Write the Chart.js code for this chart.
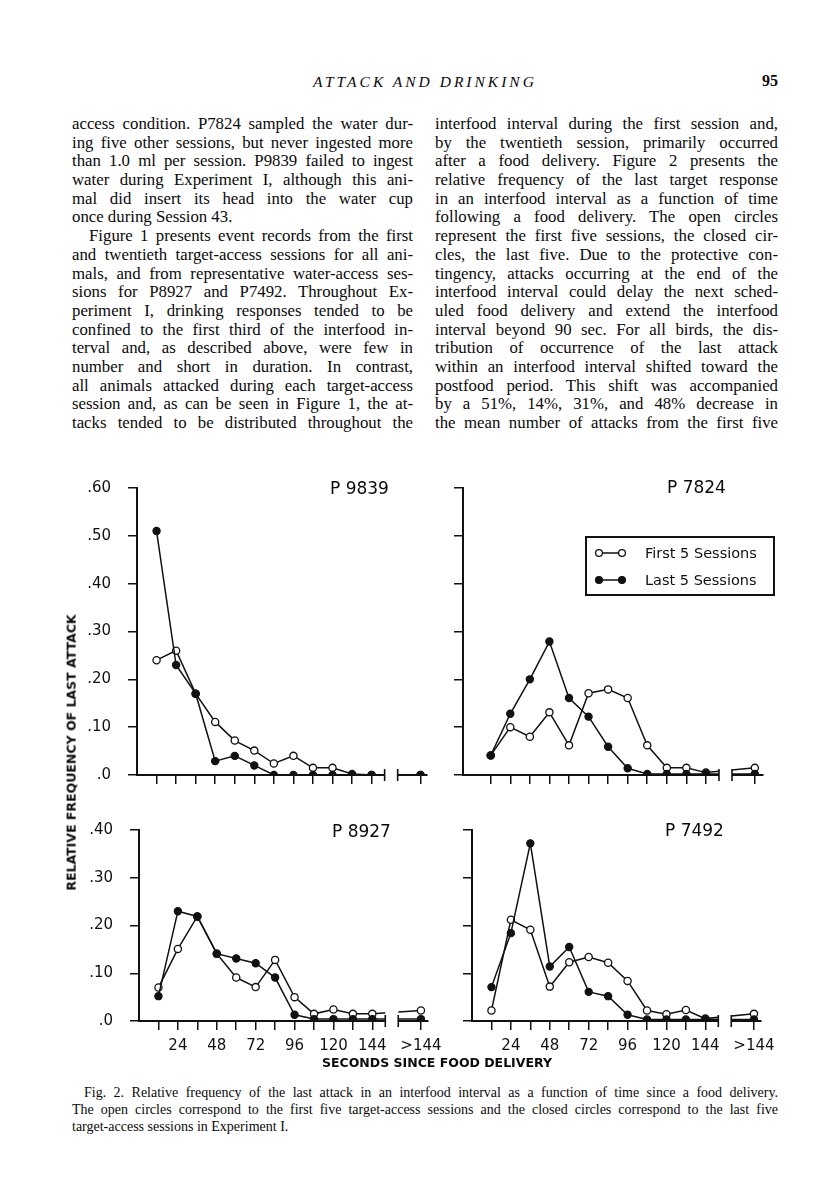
<!DOCTYPE html>
<html>
<head>
<meta charset="utf-8">
<title>Attack and Drinking - Fig. 2</title>
<script src="https://cdn.jsdelivr.net/npm/chart.js@4.4.0/dist/chart.umd.min.js"></script>
<style>
    body { margin: 0; background: #fff; }
    #page { position: relative; width: 816px; height: 1200px; color: #0a0a0a; font-family: "Liberation Serif", serif; overflow: hidden; }
    .abs { position: absolute; }
    .col { position: absolute; top: 115px; }
    .col div { height: 18.7px; line-height: 18.7px; font-size: 16.8px; white-space: nowrap; }
    .col div.indent { text-indent: 17px; }
    .header { top: 73px; left: 0; width: 850px; text-align: center; font-style: italic; font-size: 15.5px; letter-spacing: 3px; }
    .pageno { top: 72px; left: 740px; width: 38px; text-align: right; font-weight: bold; font-size: 16px; }
    .panel-label { font-family: "DejaVu Sans", sans-serif; font-size: 17px; line-height: 20px; }
    .axis-title { font-family: "DejaVu Sans", sans-serif; font-weight: bold; font-size: 12.5px; white-space: nowrap; }
    .caption { left: 72px; top: 1084px; width: 706px; font-size: 14px; line-height: 17px; }
    .caption div { white-space: nowrap; }
    .caption div.first { text-indent: 12px; }
</style>
</head>
<body>
<div id="page">
    <div class="abs header">ATTACK AND DRINKING</div>
    <div class="abs pageno">95</div>

    <div class="col" style="left:72px; width:341px;">
        <div>access condition. P7824 sampled the water dur-</div>
        <div>ing five other sessions, but never ingested more</div>
        <div>than 1.0 ml per session. P9839 failed to ingest</div>
        <div>water during Experiment I, although this ani-</div>
        <div>mal did insert its head into the water cup</div>
        <div class="last">once during Session 43.</div>
        <div class="indent">Figure 1 presents event records from the first</div>
        <div>and twentieth target-access sessions for all ani-</div>
        <div>mals, and from representative water-access ses-</div>
        <div>sions for P8927 and P7492. Throughout Ex-</div>
        <div>periment I, drinking responses tended to be</div>
        <div>confined to the first third of the interfood in-</div>
        <div>terval and, as described above, were few in</div>
        <div>number and short in duration. In contrast,</div>
        <div>all animals attacked during each target-access</div>
        <div>session and, as can be seen in Figure 1, the at-</div>
        <div>tacks tended to be distributed throughout the</div>
    </div>

    <div class="col" style="left:435px; width:343px;">
        <div>interfood interval during the first session and,</div>
        <div>by the twentieth session, primarily occurred</div>
        <div>after a food delivery. Figure 2 presents the</div>
        <div>relative frequency of the last target response</div>
        <div>in an interfood interval as a function of time</div>
        <div>following a food delivery. The open circles</div>
        <div>represent the first five sessions, the closed cir-</div>
        <div>cles, the last five. Due to the protective con-</div>
        <div>tingency, attacks occurring at the end of the</div>
        <div>interfood interval could delay the next sched-</div>
        <div>uled food delivery and extend the interfood</div>
        <div>interval beyond 90 sec. For all birds, the dis-</div>
        <div>tribution of occurrence of the last attack</div>
        <div>within an interfood interval shifted toward the</div>
        <div>postfood period. This shift was accompanied</div>
        <div>by a 51%, 14%, 31%, and 48% decrease in</div>
        <div>the mean number of attacks from the first five</div>
    </div>

    <canvas id="p9839" class="abs" style="left:67px; top:462px;" width="380" height="353"></canvas>
    <canvas id="p7824" class="abs" style="left:393px; top:462px;" width="390" height="353"></canvas>
    <canvas id="p8927" class="abs" style="left:69px; top:804px;" width="380" height="257"></canvas>
    <canvas id="p7492" class="abs" style="left:402px; top:804px;" width="380" height="257"></canvas>

    <div class="abs panel-label" style="left:330px; top:478px;">P 9839</div>
    <div class="abs panel-label" style="left:667px; top:477px;">P 7824</div>
    <div class="abs panel-label" style="left:332px; top:821px;">P 8927</div>
    <div class="abs panel-label" style="left:665px; top:820px;">P 7492</div>

    <div id="ytitle" class="abs axis-title">RELATIVE FREQUENCY OF LAST ATTACK</div>
    <div id="xtitle" class="abs axis-title">SECONDS SINCE FOOD DELIVERY</div>

    <div class="abs caption">
        <div class="first">Fig. 2. Relative frequency of the last attack in an interfood interval as a function of time since a food delivery.</div>
        <div>The open circles correspond to the first five target-access sessions and the closed circles correspond to the last five</div>
        <div class="last">target-access sessions in Experiment I.</div>
    </div>
</div>

<script>
// bins: 12 s steps, plus the ">144" bin drawn past the axis break
const xBins = [12, 24, 36, 48, 60, 72, 84, 96, 108, 120, 132, 144, 174];
const xTickLabels = ['', '24', '', '48', '', '72', '', '96', '', '120', '', '144', '>144'];
const yTicksTop = [0, 0.1, 0.2, 0.3, 0.4, 0.5, 0.6];
const yTicksBottom = [0, 0.1, 0.2, 0.3, 0.4];
const yTickLabels = ['.0', '.10', '.20', '.30', '.40', '.50', '.60'];

// relative frequency of last attack
const p9839First = [0.24, 0.26, 0.17, 0.111, 0.072, 0.051, 0.024, 0.040, 0.015, 0.015, 0.002, 0, 0];
const p9839Last  = [0.51, 0.23, 0.17, 0.029, 0.040, 0.020, 0, 0, 0, 0, 0, 0, 0];
const p7824First = [0.041, 0.100, 0.080, 0.131, 0.062, 0.171, 0.179, 0.161, 0.062, 0.015, 0.015, 0.005, 0.015];
const p7824Last  = [0.041, 0.128, 0.200, 0.279, 0.161, 0.122, 0.059, 0.014, 0.002, 0.002, 0.002, 0.002, 0.002];
const p8927First = [0.070, 0.151, 0.219, 0.141, 0.091, 0.071, 0.128, 0.050, 0.015, 0.024, 0.015, 0.015, 0.022];
const p8927Last  = [0.052, 0.230, 0.219, 0.141, 0.131, 0.121, 0.091, 0.013, 0.004, 0.004, 0.004, 0.004, 0.004];
const p7492First = [0.022, 0.212, 0.191, 0.072, 0.123, 0.134, 0.122, 0.084, 0.022, 0.014, 0.023, 0.005, 0.015];
const p7492Last  = [0.071, 0.184, 0.372, 0.114, 0.155, 0.061, 0.052, 0.013, 0.003, 0.003, 0.003, 0.003, 0.003];

const ink = '#111';
const breakFrom = 152;
const breakTo = 160;

Chart.defaults.font.family = '"DejaVu Sans", sans-serif';
Chart.defaults.color = ink;

// white gap in the x axis with the two end bars
const axisBreak = {
    id: 'axisBreak',
    afterDraw(chart) {
        const { ctx, scales: { x, y } } = chart;
        const x1 = x.getPixelForValue(breakFrom);
        const x2 = x.getPixelForValue(breakTo);
        const y0 = y.getPixelForValue(0);
        ctx.save();
        ctx.fillStyle = '#fff';
        ctx.fillRect(x1, y0 - 16, x2 - x1, 19);
        ctx.strokeStyle = ink;
        ctx.lineWidth = 1.6;
        ctx.beginPath();
        [x1, x2].forEach(px => {
            ctx.moveTo(px, y0 - 6);
            ctx.lineTo(px, y0 + 6);
        });
        ctx.stroke();
        ctx.restore();
    }
};

// boxed legend in the P 7824 panel
const boxLegend = {
    id: 'boxLegend',
    afterDraw(chart) {
        const ctx = chart.ctx;
        const sets = [chart.data.datasets[1], chart.data.datasets[0]];
        ctx.save();
        ctx.strokeStyle = ink;
        ctx.lineWidth = 2;
        ctx.strokeRect(193, 75, 188, 58);
        sets.forEach((ds, i) => {
            const yy = 91 + i * 27;
            ctx.lineWidth = 1.5;
            ctx.beginPath();
            ctx.moveTo(206, yy);
            ctx.lineTo(229, yy);
            ctx.stroke();
            [206, 229].forEach(px => {
                ctx.beginPath();
                ctx.arc(px, yy, 3.4, 0, Math.PI * 2);
                ctx.fillStyle = ds.pointBackgroundColor;
                ctx.fill();
                ctx.lineWidth = 1.3;
                ctx.stroke();
            });
            ctx.fillStyle = ink;
            ctx.font = '14.5px "DejaVu Sans", sans-serif';
            ctx.textBaseline = 'middle';
            ctx.fillText(ds.label, 252, yy + 1);
        });
        ctx.restore();
    }
};

function series(values) {
    return xBins.map((x, i) => ({ x: x, y: values[i] }));
}

function makePanel(id, first, last, opts) {
    const ctx = document.getElementById(id).getContext('2d');
    const yTicks = opts.yMax > 0.45 ? yTicksTop : yTicksBottom;
    const plugins = [axisBreak];
    if (opts.legend) plugins.push(boxLegend);

    new Chart(ctx, {
        type: 'line',
        data: {
            datasets: [{
                label: 'Last 5 Sessions',
                data: series(last),
                borderColor: ink,
                borderWidth: 1.5,
                pointRadius: 3.6,
                pointBorderWidth: 1.2,
                pointBorderColor: ink,
                pointBackgroundColor: ink,
                tension: 0
            }, {
                label: 'First 5 Sessions',
                data: series(first),
                borderColor: ink,
                borderWidth: 1.5,
                pointRadius: 3.6,
                pointBorderWidth: 1.3,
                pointBorderColor: ink,
                pointBackgroundColor: '#fff',
                tension: 0
            }]
        },
        options: {
            responsive: false,
            animation: false,
            events: [],
            layout: { padding: { top: 20, right: 20, left: 0, bottom: 0 } },
            plugins: { legend: { display: false }, tooltip: { enabled: false } },
            scales: {
                x: {
                    type: 'linear',
                    min: opts.xMin,
                    max: opts.xMax,
                    afterBuildTicks: s => { s.ticks = xBins.map(v => ({ value: v })); },
                    afterFit: s => { s.height = 40; },
                    grid: { drawOnChartArea: false, drawTicks: true, tickLength: 9, color: ink, lineWidth: 1.5 },
                    border: { color: ink, width: 2 },
                    ticks: {
                        autoSkip: false, maxRotation: 0, padding: 7,
                        font: { size: 15 },
                        callback: (v, i) => opts.xLabels ? xTickLabels[i] : ''
                    }
                },
                y: {
                    min: 0,
                    max: opts.yMax,
                    afterBuildTicks: s => { s.ticks = yTicks.map(v => ({ value: v })); },
                    afterFit: s => { s.width = 70; },
                    grid: { drawOnChartArea: false, drawTicks: true, tickLength: 9, color: ink, lineWidth: 1.5 },
                    border: { color: ink, width: 2 },
                    ticks: {
                        padding: 17,
                        font: { size: 15 },
                        callback: (v, i) => opts.yLabels ? yTickLabels[i] : ''
                    }
                }
            }
        },
        plugins: plugins
    });
}

// spread words so every non-final line fills its column, like the typeset page
function justifyLines(selector) {
    document.querySelectorAll(selector).forEach(el => {
        if (el.classList.contains('last')) return;
        const text = el.textContent;
        const span = document.createElement('span');
        span.textContent = text;
        el.textContent = '';
        el.appendChild(span);
        const indent = parseFloat(getComputedStyle(el).textIndent) || 0;
        const spaces = (text.match(/ /g) || []).length;
        const extra = el.clientWidth - indent - span.getBoundingClientRect().width;
        if (spaces > 0) el.style.wordSpacing = (extra / spaces) + 'px';
    });
}

function placeTitles() {
    const yt = document.getElementById('ytitle');
    const w = yt.offsetWidth, h = yt.offsetHeight;
    yt.style.left = (71 - w / 2) + 'px';
    yt.style.top = (752 - h / 2) + 'px';
    yt.style.transform = 'rotate(-90deg)';

    const xt = document.getElementById('xtitle');
    xt.style.left = (437 - xt.offsetWidth / 2) + 'px';
    xt.style.top = (1062 - xt.offsetHeight / 2) + 'px';
}

makePanel('p9839', p9839First, p9839Last, { xMin: 0, xMax: 178, yMax: 0.6, yLabels: true, xLabels: false });
makePanel('p7824', p7824First, p7824Last, { xMin: -5, xMax: 179, yMax: 0.6, yLabels: false, xLabels: false, legend: true });
makePanel('p8927', p8927First, p8927Last, { xMin: 0, xMax: 178, yMax: 0.4, yLabels: true, xLabels: true });
makePanel('p7492', p7492First, p7492Last, { xMin: 0, xMax: 178, yMax: 0.4, yLabels: false, xLabels: true });
justifyLines('.col div');
justifyLines('.caption div');
placeTitles();
</script>
</body>
</html>
